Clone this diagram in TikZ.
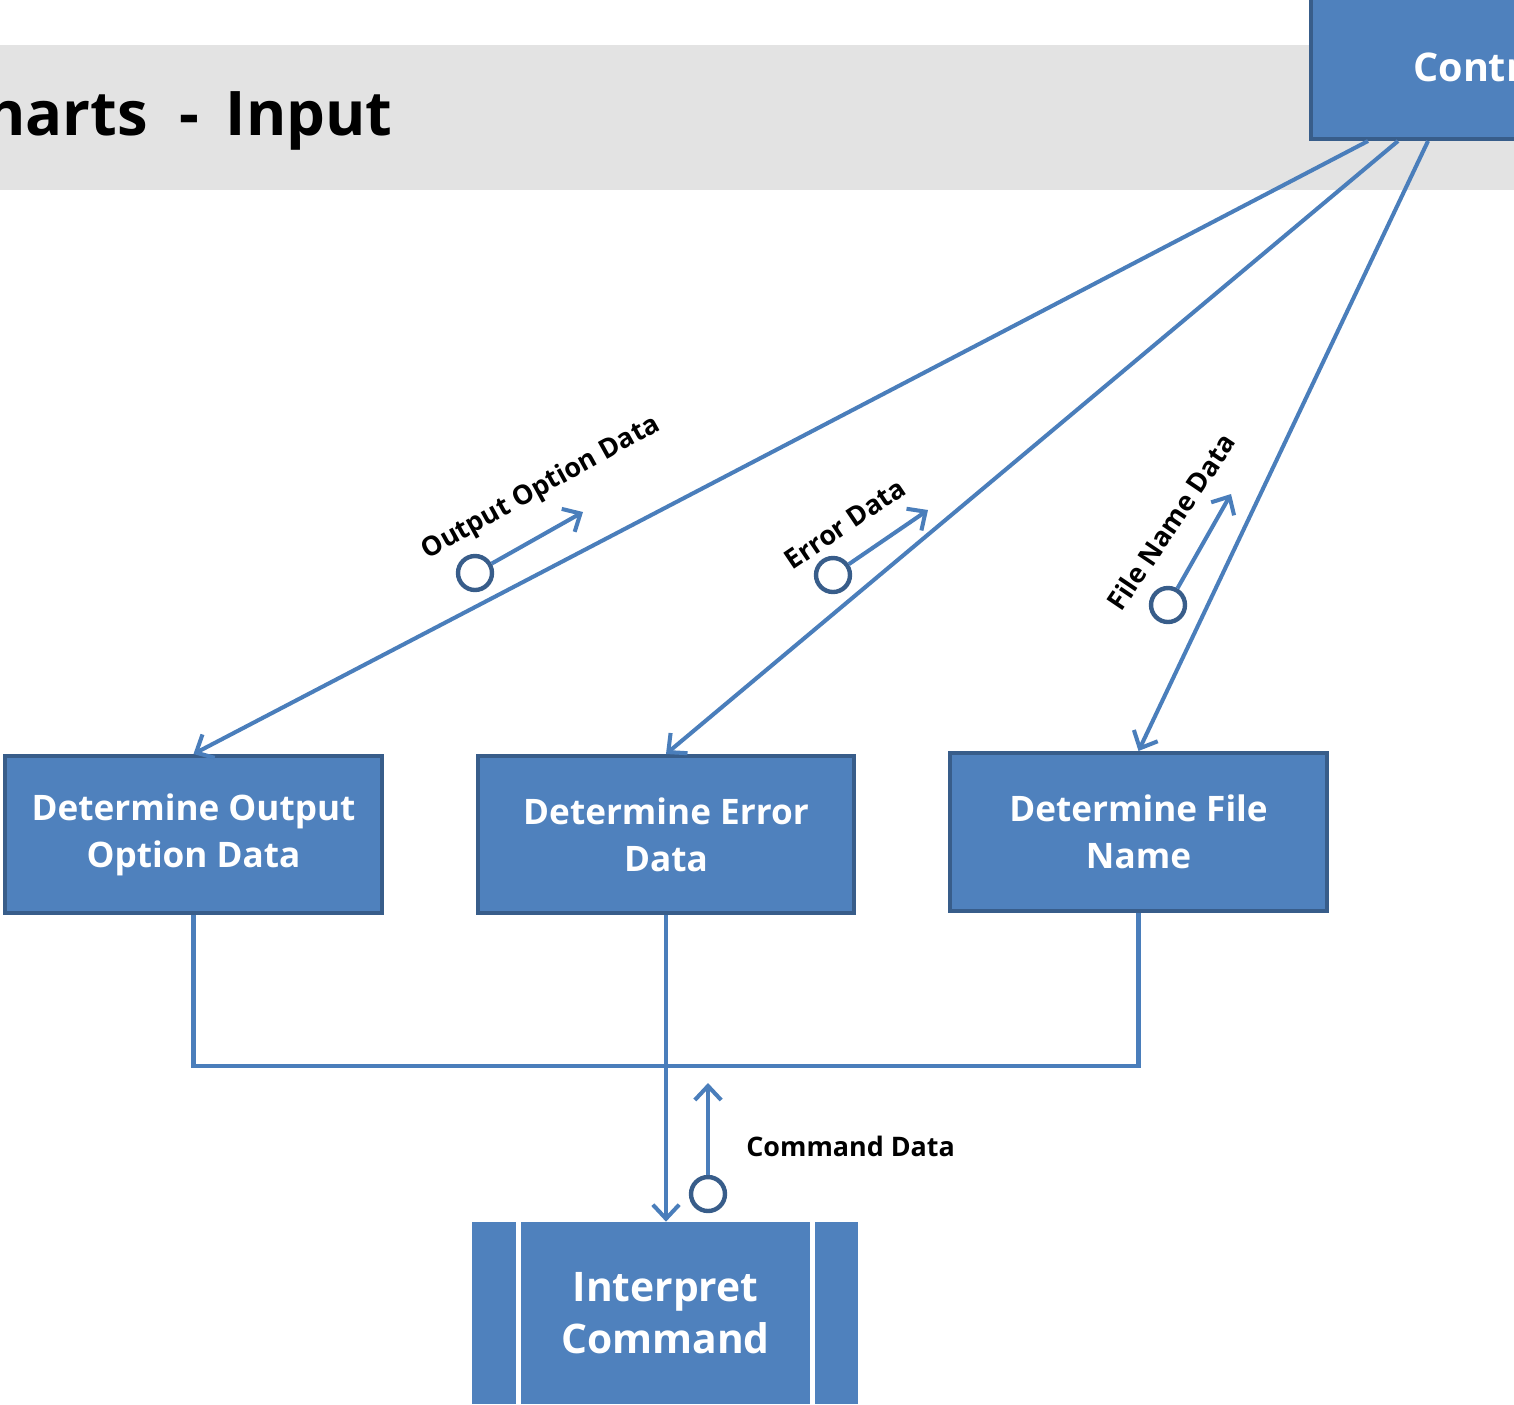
\documentclass[tikz,border=0pt]{standalone}
\usepackage{fontspec}
\setmainfont{Open Sans}
\usetikzlibrary{arrows.meta,calc}
\definecolor{boxfill}{HTML}{4F81BD}
\definecolor{boxline}{HTML}{385D8A}
\definecolor{flowline}{HTML}{4A7EBB}
\definecolor{band}{HTML}{E3E3E3}
\newcommand\boxlines[1]{\raisebox{-5pt}{\parbox{7cm}{\centering #1}}}
\tikzset{
  procbox/.style={draw=boxline, line width=2.3pt, fill=boxfill, text=white,
    font=\bfseries\fontsize{20}{26.6}\selectfont, align=center, inner sep=0pt},
  flow/.style={draw=flowline, line width=2.3pt},
  flowarrow/.style={flow, -{Straight Barb[length=8pt,width=15pt,line width=2.3pt]}},
  couple/.style={circle, draw=boxline, line width=2.5pt, fill=white, minimum size=0.68cm, inner sep=0pt},
  datalabel/.style={font=\bfseries\fontsize{15.3}{17}\selectfont, inner sep=0pt},
}
\begin{document}
\begin{tikzpicture}[x=0.02cm, y=-0.02cm]
  \useasboundingbox (0,0) rectangle (1514,1404);
  \clip (0,0) rectangle (1514,1404);

  % title band
  \fill[band] (0,45) rectangle (1514,190);
  \node[anchor=base east, inner sep=0pt, font=\bfseries\fontsize{35}{40}\selectfont] (title)
    at (393,135) {Charts\hspace{18pt}-\hspace{15pt}Input};

  % controlling module
  \node[procbox, minimum width=8.08cm, minimum height=2.88cm] (ctrl) at (1513,67) {};
  \node[anchor=west, inner sep=0pt, text=white, font=\bfseries\fontsize{22.5}{26}\selectfont] (ctrltext)
    at (1413,67) {Control};

  % subordinate modules
  \node[procbox, minimum width=7.54cm, minimum height=3.14cm] (out) at (193.5,834.5)
    {\boxlines{Determine Output\\Option Data}};
  \node[procbox, minimum width=7.52cm, minimum height=3.14cm] (err) at (666,834.5)
    {\boxlines{Determine Error\\Data}};
  \node[procbox, minimum width=7.54cm, minimum height=3.16cm] (file) at (1138.5,832)
    {\boxlines{Determine File\\Name}};

  % predefined module
  \node[fill=boxfill, minimum width=0.88cm, minimum height=3.64cm, inner sep=0pt] (icl) at (494,1313) {};
  \node[fill=boxfill, minimum width=0.86cm, minimum height=3.64cm, inner sep=0pt] (icr) at (836.5,1313) {};
  \node[fill=boxfill, text=white, minimum width=5.78cm, minimum height=3.64cm, inner sep=0pt,
    align=center, font=\bfseries\fontsize{23.2}{29.5}\selectfont] (ic) at (665.5,1313)
    {Interpret\\Command};

  % calls from the controlling module
  \coordinate (s1) at ($(ctrl.south west)+(59,0)$);
  \coordinate (s2) at ($(ctrl.south west)+(89,0)$);
  \coordinate (s3) at ($(ctrl.south west)+(119,0)$);
  \draw[flowarrow] (s1) -- (out.north);
  \draw[flowarrow] (s2) -- (err.north);
  \draw[flowarrow] (s3) -- (file.north);

  % returns joined into one line
  \coordinate (jy) at (0,1066);
  \draw[flow] (out.south) |- (file.south |- jy) -- (file.south);
  \draw[flowarrow] (err.south) -- (err.south |- ic.north);

  % data couples
  \node[couple] (c1) at (475,573) {};
  \coordinate (a1) at (583,512);
  \draw[flowarrow] (c1) -- (a1);
  \node[datalabel, rotate=29] (l1) at (541,488) {Output Option Data};

  \node[couple] (c2) at (833,575) {};
  \coordinate (a2) at (928,510);
  \draw[flowarrow] (c2) -- (a2);
  \node[datalabel, rotate=34] (l2) at (845,524) {Error Data};

  \node[couple] (c3) at (1168,605) {};
  \coordinate (a3) at (1231,494);
  \draw[flowarrow] (c3) -- (a3);
  \node[datalabel, rotate=56] (l3) at (1171,522) {File Name Data};

  \node[couple] (c4) at (708,1194) {};
  \coordinate (a4) at (708,1083);
  \draw[flowarrow] (c4) -- (a4);
  \node[datalabel, anchor=west] (l4) at (746,1146) {Command Data};
\end{tikzpicture}
\end{document}
